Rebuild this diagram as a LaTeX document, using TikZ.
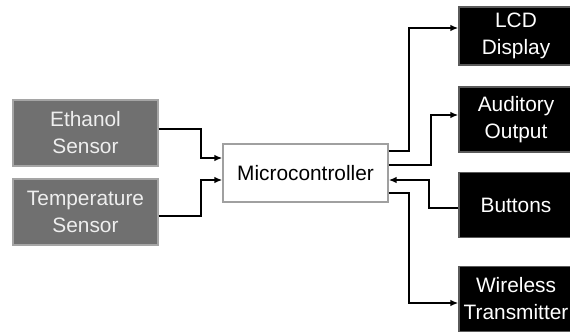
\documentclass[tikz,border=0pt]{standalone}
\usepackage{fontspec}
\setmainfont{Liberation Sans}
\usetikzlibrary{arrows.meta,calc}
\definecolor{SensorGray}{RGB}{112,112,112}
\definecolor{SensorEdge}{RGB}{165,165,165}
\definecolor{SensorText}{RGB}{238,238,238}
\definecolor{McuEdge}{RGB}{160,160,160}
\definecolor{PortEdge}{RGB}{90,90,90}
\tikzset{
  >=Latex,
  box/.style={draw,line width=1.2pt,align=center,inner sep=0pt,font=\fontsize{17.8}{23}\selectfont},
  sensor/.style={box,draw=SensorEdge,fill=SensorGray,text=SensorText,minimum width=4.35cm,minimum height=1.98cm},
  mcubox/.style={box,draw=McuEdge,fill=white,text=black,minimum width=4.95cm,minimum height=1.74cm},
  port/.style={box,draw=PortEdge,fill=black,text=white,minimum width=3.42cm,minimum height=1.94cm},
  link/.style={-{Latex[length=2.4mm,width=2mm]},line width=1.8pt,draw=black}
}
\begin{document}
\begin{tikzpicture}[x=0.03cm,y=-0.03cm]
  \useasboundingbox (0,0) rectangle (570,333);
  % inputs
  \node[sensor] (eth) at (85.5,133) {Ethanol\\Sensor};
  \node[sensor] (tmp) at (85.5,212) {Temperature\\Sensor};
  \node[mcubox] (mcu) at (305.5,173) {Microcontroller};
  % outputs
  \node[port,minimum height=1.74cm] (lcd) at (516,36) {LCD\\Display};
  \node[port] (aud) at (516,119.5) {Auditory\\Output};
  \node[port] (btn) at (516,205) {Buttons};
  \node[port] (wls) at (516,299) {Wireless\\Transmitter};
  \draw[link] ($(eth.east)+(0,-4)$) -- ++(42,0) |- ($(mcu.west)+(0,-15)$);
  \draw[link] ($(tmp.east)+(0,4)$) -- ++(42,0) |- ($(mcu.west)+(0,7)$);
  \draw[link] ($(mcu.east)+(0,-22)$) -- ++(20,0) |- ($(lcd.west)+(0,-8)$);
  \draw[link] ($(mcu.east)+(0,-8)$) -- ++(42,0) |- ($(aud.west)+(0,-4.5)$);
  \draw[link] ($(btn.west)+(0,3)$) -- ++(-29,0) |- ($(mcu.east)+(0,7)$);
  \draw[link] ($(mcu.east)+(0,20)$) -- ++(20,0) |- ($(wls.west)+(0,4)$);
\end{tikzpicture}
\end{document}
